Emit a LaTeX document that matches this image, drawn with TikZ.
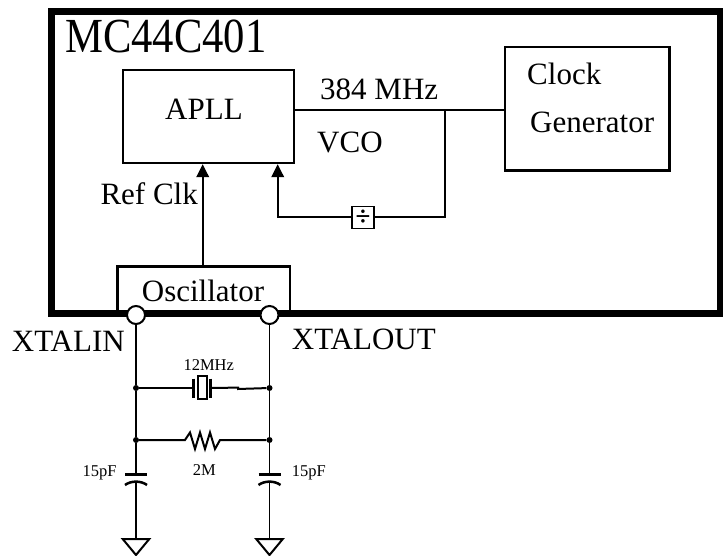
\documentclass[tikz,border=0pt]{standalone}
\usepackage{fontspec}
\setmainfont{Liberation Serif}
\usetikzlibrary{arrows.meta,calc}
\newcommand\bigf{\fontsize{31}{31}\selectfont}
\newcommand\smallf{\fontsize{16.5}{16.5}\selectfont}
\tikzset{
  blk/.style={draw, line width=2.5pt, inner sep=0pt, fill=none},
  txt/.style={inner sep=0pt, font=\bigf},
  stxt/.style={inner sep=0pt, font=\smallf},
  wire/.style={line width=2pt},
  thinwire/.style={line width=1.6pt},
  arr/.style={line width=2pt, -{Triangle[length=13pt,width=12.6pt]}},
  pin/.style={circle, draw, line width=2pt, fill=white, minimum size=18pt, inner sep=0pt},
  junc/.style={circle, fill=black, minimum size=6pt, inner sep=0pt},
  plate/.style={line width=3pt},
}
\begin{document}
\begin{tikzpicture}[x=1pt,y=-1pt]
\useasboundingbox (0,0) rectangle (723,556);
% blocks
\node[blk, minimum width=171pt, minimum height=93pt] (apll) at (208.5,116.5) {};
\node[blk, minimum width=164.5pt, minimum height=123.5pt] (clk) at (587.25,108.75) {};
\node[blk, minimum width=172.5pt, minimum height=46.8pt] (osc) at (203.75,290.1) {};
\node[draw, line width=6.5pt, inner sep=0pt, minimum width=668.5pt, minimum height=302pt] (chip) at (385.75,162.5) {};
\node[draw, line width=1.6pt, inner sep=0pt, minimum size=22pt, fill=white] (div) at (363,217.5) {};
\node[inner sep=0pt, font=\fontsize{27}{27}\selectfont\bfseries] (divsym) at (363,217.5) {÷};
% texts
\node[inner sep=0pt, anchor=base west, font=\fontsize{49}{49}\selectfont] (title) at (65,53) {\scalebox{0.87}[1]{MC44C401}};
\node[txt, anchor=base west] (tapll) at (165,120) {APLL};
\node[txt, anchor=base west] (tmhz) at (320,100) {384 MHz};
\node[txt, anchor=base west] (tvco) at (317,153) {VCO};
\node[txt, anchor=base west] (tclock) at (527,85) {Clock};
\node[txt, anchor=base west] (tgen) at (530,133) {Generator};
\node[txt, anchor=base east] (tref) at (198,205) {Ref Clk};
\node[txt, anchor=base west] (tosc) at (141.7,301.7) {Oscillator};
\node[txt, anchor=base west] (txin) at (11.7,351.7) {XTALIN};
\node[txt, anchor=base west] (txout) at (291.7,349.3) {XTALOUT};
\node[stxt, anchor=base west] (t12) at (183.3,370) {12MHz};
\node[stxt, anchor=base west] (t2m) at (192.7,475) {2M};
\node[stxt, anchor=base east] (tc1) at (116.7,476) {15pF};
\node[stxt, anchor=base west] (tc2) at (291.7,476) {15pF};
% coordinates
\coordinate (v) at (445,110);
\coordinate (refx) at (202.7,0);
\coordinate (fbx) at (277.7,0);
% connectors inside chip
\draw[wire] (apll.east |- v) -- (clk.west |- v);
\draw[arr] (osc.north -| refx) -- (apll.south -| refx);
\draw[wire] (v) |- (div.east);
\draw[arr] (div.west) -| (apll.south -| fbx);
% pins
\node[pin] (xin) at (136,315) {};
\node[pin] (xout) at (269.5,315) {};
% junctions
\node[junc] (j1) at (136,388) {};
\node[junc] (j2) at (269.5,388) {};
\node[junc] (j3) at (136,440) {};
\node[junc] (j4) at (269.5,440) {};
% capacitor coordinates
\coordinate (c1t) at (136,474);
\coordinate (c1b) at (136,481.5);
\coordinate (c2t) at (269.5,474);
\coordinate (c2b) at (269.5,481.5);
\coordinate (g1) at (136,539);
\coordinate (g2) at (269.5,539);
% vertical wires
\draw[thinwire] (xin.south) -- (j1) -- (j3) -- (c1t);
\draw[thinwire] (xout.south) -- (j2) -- (j4) -- (c2t);
\draw[thinwire] (c1b) -- (g1);
\draw[thinwire] (c2b) -- (g2);
% capacitor plates
\draw[plate] ($(c1t)+(-11,0)$) -- ($(c1t)+(11,0)$);
\draw[line width=2.5pt] ($(c1b)+(-11,3.5)$) .. controls ($(c1b)+(-5,-1)$) and ($(c1b)+(5,-1)$) .. ($(c1b)+(11,3.5)$);
\draw[plate] ($(c2t)+(-11,0)$) -- ($(c2t)+(11,0)$);
\draw[line width=2.5pt] ($(c2b)+(-11,3.5)$) .. controls ($(c2b)+(-5,-1)$) and ($(c2b)+(5,-1)$) .. ($(c2b)+(11,3.5)$);
% grounds
\draw[line width=2pt, line join=miter] ($(g1)+(-13.3,0)$) -- ($(g1)+(13.3,0)$) -- ($(g1)+(0,16)$) -- cycle;
\draw[line width=2pt, line join=miter] ($(g2)+(-13.3,0)$) -- ($(g2)+(13.3,0)$) -- ($(g2)+(0,16)$) -- cycle;
% crystal
\node[draw, line width=2pt, inner sep=0pt, minimum width=9pt, minimum height=23.3pt] (xtal) at (202.8,387.7) {};
\coordinate (xpl) at (193,388);
\coordinate (xpr) at (210.5,388);
\draw[plate] ($(xpl)+(0,-9.5)$) -- ($(xpl)+(0,9.5)$);
\draw[plate] ($(xpr)+(0,-9.5)$) -- ($(xpr)+(0,9.5)$);
\draw[wire] (j1) -- (xpl);
\draw[wire] (xpr) -- (238,387.6) -- (238,389) -- (j2);
% resistor
\draw[wire, line join=miter] (j3) -- (185,440) -- (190,432.5) -- (195,449) -- (200,432.5) -- (205,449) -- (210,432.5) -- (215,449) -- (220,440) -- (j4);
\end{tikzpicture}
\end{document}
